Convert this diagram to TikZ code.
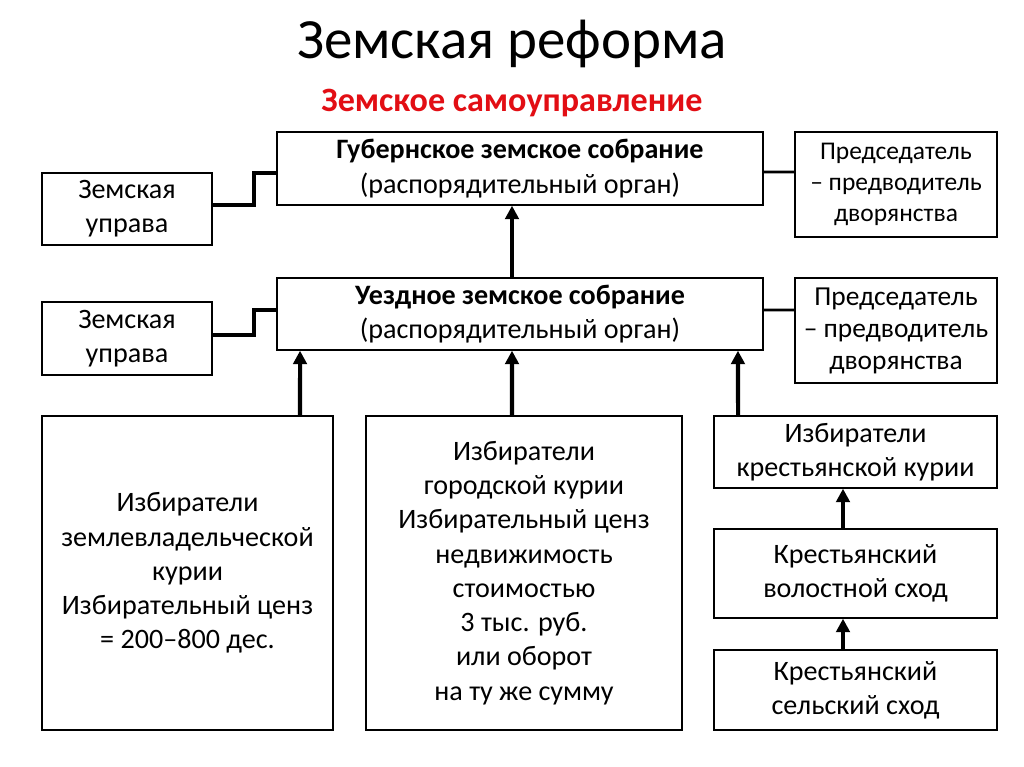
\documentclass[tikz,border=0pt]{standalone}
\usepackage{fontspec}
\setmainfont{Carlito}
\usetikzlibrary{arrows.meta}
\definecolor{titlered}{RGB}{226,14,20}

\begin{document}
\begin{tikzpicture}[x=0.02cm, y=-0.02cm,
  box/.style={draw, line width=0.8pt, align=center, inner sep=2pt, font=\fontsize{16}{19.5}\selectfont},
  link/.style={line width=2.3pt},
  thinlink/.style={line width=1.7pt},
  arr/.style={line width=2.3pt, -{Triangle[length=0.27cm, width=0.27cm]}}]
\useasboundingbox (0,0) rectangle (1024,767);
\node [font=\fontsize{32.4}{38}\selectfont] (title) at (512,44) {Земская реформа};
\node [font=\fontsize{19.4}{23}\selectfont\bfseries, text=titlered] (subtitle) at (512,103) {Земское самоуправление};

% upper level
\node [box, minimum width=9.72cm, minimum height=1.46cm] (gub) at (520,168.5) {\textbf{Губернское земское собрание}\\(распорядительный орган)};
\node [box, minimum width=3.4cm, minimum height=1.44cm] (upr1) at (127,209) {Земская\\управа};
\node [box, minimum width=4.04cm, minimum height=2.1cm, font=\fontsize{14.5}{17.6}\selectfont] (pred1) at (896,184.5) {Председатель\\– предводитель\\дворянства};

% district level
\node [box, minimum width=9.72cm, minimum height=1.44cm] (uezd) at (520,314) {\textbf{Уездное земское собрание}\\(распорядительный орган)};
\node [box, minimum width=3.4cm, minimum height=1.46cm] (upr2) at (127,338.5) {Земская\\управа};
\node [box, minimum width=4.04cm, minimum height=2.1cm, font=\fontsize{15.6}{18.2}\selectfont] (pred2) at (896,330.5) {Председатель\\– предводитель\\дворянства};

% curiae
\node [box, minimum width=5.82cm, minimum height=6.28cm] (izbz) at (187.5,573) {Избиратели\\землевладельческой\\курии\\Избирательный ценз\\= 200–800 дес.};
\node [box, minimum width=6.32cm, minimum height=6.28cm] (izbg) at (524,573) {Избиратели\\городской курии\\Избирательный ценз\\недвижимость\\стоимостью\\3 тыс. руб.\\или оборот\\на ту же сумму};
\node [box, minimum width=5.66cm, minimum height=1.44cm] (izbk) at (855.5,452) {Избиратели\\крестьянской курии};
\node [box, minimum width=5.66cm, minimum height=1.78cm] (vol) at (855.5,573.5) {Крестьянский\\волостной сход};
\node [box, minimum width=5.66cm, minimum height=1.6cm] (sel) at (855.5,690) {Крестьянский\\сельский сход};

\draw[link] ([yshift=0.08cm]upr1.east) -- ++(0.82cm,0) |- ([yshift=-0.09cm]gub.west);
\draw[link] ([yshift=0.07cm]upr2.east) -- ++(0.82cm,0) |- ([yshift=0.08cm]uezd.west);
\draw[thinlink] ([yshift=-0.07cm]gub.east) -- ([yshift=0.25cm]pred1.west);
\draw[thinlink] ([yshift=0.08cm]uezd.east) -- ([yshift=0.41cm]pred2.west);

\draw[arr] ([xshift=-0.16cm]uezd.north) -- ([xshift=-0.16cm]gub.south);
\draw[arr] ([xshift=2.25cm]izbz.north) -- ([xshift=-4.4cm]uezd.south);
\draw[arr] ([xshift=-0.24cm]izbg.north) -- ([xshift=-0.16cm]uezd.south);
\draw[arr] ([xshift=-2.35cm]izbk.north) -- ([xshift=4.36cm]uezd.south);
\draw[arr] ([xshift=-0.25cm]vol.north) -- ([xshift=-0.25cm]izbk.south);
\draw[arr] ([xshift=-0.25cm]sel.north) -- ([xshift=-0.25cm]vol.south);
\end{tikzpicture}
\end{document}
